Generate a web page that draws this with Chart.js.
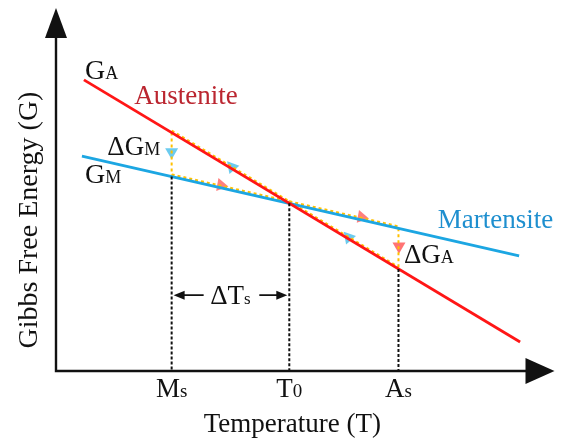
<!DOCTYPE html>
<html>
<head>
<meta charset="utf-8">
<script src="https://cdn.jsdelivr.net/npm/chart.js@4"></script>
<style>
  html, body { margin: 0; padding: 0; background: #fff; }
</style>
</head>
<body>
<canvas id="gibbs" width="562" height="438"></canvas>
<script>
// free energy lines (temperature and G in arbitrary units)
const austeniteT = [0.56, 9.31];
const austeniteG = [8.02, 0.80];
const martensiteT = [0.52, 9.29];
const martensiteG = [5.92, 3.17];

// characteristic temperatures Ms, T0, As
const tempNames = ['M', 'T', 'A'];
const tempSubs = ['s', '0', 's'];
const tempValues = [2.32, 4.68, 6.87];
const gAustenite = [6.57, 4.62, 2.81];   // G of austenite at Ms, T0, As
const gMartensite = [5.36, 4.62, 3.93];  // G of martensite at Ms, T0, As

// direction markers
const heatT = [3.31, 6.13];   // along martensite, heating
const heatG = [5.12, 4.24];
const coolT = [3.53, 5.87];   // along austenite, cooling
const coolG = [5.62, 3.68];
const dropT = [2.32, 6.88];   // driving force arrows at Ms and As
const dropG = [6.03, 3.44];

const deltaTsG = 2.09;
const pathLift = 0.05;  // dotted paths sit on the upper edge of the lines

const RED = 'rgb(255,22,22)';
const BLUE = 'rgb(28,166,226)';
const YELLOW = 'rgb(255,192,0)';
const INK = '#111';
const SERIF = '"Liberation Serif", "DejaVu Serif", serif';

const [Ms, T0, As] = tempValues;

function seg(xs, ys) {
  return xs.map((x, i) => ({ x: x, y: ys[i] }));
}

function lifted(xs, ys) {
  return seg(xs, ys.map(g => g + pathLift));
}

function line(data, color, width, dash) {
  return {
    data: data, showLine: true, borderColor: color, borderWidth: width,
    borderDash: dash || [], pointRadius: 0, fill: false, clip: false
  };
}

function markers(xs, ys, color, rotation) {
  return {
    data: seg(xs, ys), showLine: false, pointStyle: 'triangle',
    pointRadius: 7.5, pointRotation: rotation,
    backgroundColor: color, borderColor: color, borderWidth: 0, clip: false
  };
}

const dot = [3, 3];

const datasets = [
  // black guides down to the temperature axis
  line(seg([Ms, Ms], [gMartensite[0], 0]), INK, 2, [3, 2]),
  line(seg([T0, T0], [gMartensite[1], 0]), INK, 2, [3, 2]),
  line(seg([As, As], [gAustenite[2], 0]), INK, 2, [3, 2]),
  // free energy lines
  line(seg(austeniteT, austeniteG), RED, 2.8),
  line(seg(martensiteT, martensiteG), BLUE, 2.8),
  // transformation paths
  line(lifted([Ms, T0], [gAustenite[0], gAustenite[1]]), YELLOW, 2.4, dot),
  line(lifted([Ms, T0], [gMartensite[0], gMartensite[1]]), YELLOW, 2.4, dot),
  line(lifted([T0, As], [gMartensite[1], gMartensite[2]]), YELLOW, 2.4, dot),
  line(lifted([T0, As], [gAustenite[1], gAustenite[2]]), YELLOW, 2.4, dot),
  line(seg([Ms, Ms], [gAustenite[0], gMartensite[0]]), YELLOW, 2, dot),
  line(seg([As, As], [gMartensite[2], gAustenite[2]]), YELLOW, 2, dot),
  // arrow heads
  markers(heatT, heatG, 'rgba(255,95,95,0.8)', 100),
  markers(coolT, coolG, 'rgba(70,190,235,0.8)', 200),
  markers(dropT.slice(0, 1), dropG.slice(0, 1), 'rgba(70,190,235,0.8)', 180),
  markers(dropT.slice(1), dropG.slice(1), 'rgba(255,90,90,0.85)', 180)
];

// text with a small trailing subscript letter, both on the same baseline
function subText(ctx, main, sub, x, y, size, subSize, color, align) {
  ctx.fillStyle = color;
  ctx.textBaseline = 'alphabetic';
  ctx.font = size + 'px ' + SERIF;
  const w1 = ctx.measureText(main).width;
  ctx.font = subSize + 'px ' + SERIF;
  const w2 = ctx.measureText(sub).width;
  let left = x;
  if (align === 'center') left = x - (w1 + w2) / 2;
  ctx.textAlign = 'left';
  ctx.font = size + 'px ' + SERIF;
  ctx.fillText(main, left, y);
  ctx.font = subSize + 'px ' + SERIF;
  ctx.fillText(sub, left + w1, y);
}

function arrowHead(ctx, tipX, tipY, dx, dy, len, half) {
  // dx, dy: unit direction the arrow points to
  const bx = tipX - dx * len, by = tipY - dy * len;
  ctx.beginPath();
  ctx.moveTo(tipX, tipY);
  ctx.lineTo(bx - dy * half, by + dx * half);
  ctx.lineTo(bx + dy * half, by - dx * half);
  ctx.closePath();
  ctx.fill();
}

const diagramDecor = {
  id: 'diagramDecor',
  beforeDatasetsDraw(chart) {
    const ctx = chart.ctx;
    const x = chart.scales.x, y = chart.scales.y;
    const x0 = x.getPixelForValue(0), y0 = y.getPixelForValue(0);
    const xEnd = x.getPixelForValue(10), yEnd = y.getPixelForValue(10);
    ctx.save();
    ctx.strokeStyle = INK;
    ctx.fillStyle = INK;
    ctx.lineWidth = 2.4;
    ctx.beginPath();
    ctx.moveTo(x0, yEnd + 20);
    ctx.lineTo(x0, y0);
    ctx.lineTo(xEnd - 20, y0);
    ctx.stroke();
    arrowHead(ctx, x0, yEnd, 0, -1, 30, 11);
    arrowHead(ctx, xEnd, y0, 1, 0, 29, 13);
    ctx.restore();
  },
  afterDatasetsDraw(chart) {
    const ctx = chart.ctx;
    const x = chart.scales.x, y = chart.scales.y;
    const px = v => x.getPixelForValue(v);
    const py = v => y.getPixelForValue(v);
    ctx.save();

    // ΔTs span between Ms and T0
    const ay = py(deltaTsG);
    ctx.strokeStyle = INK;
    ctx.fillStyle = INK;
    ctx.lineWidth = 1.8;
    ctx.beginPath();
    ctx.moveTo(px(Ms) + 10, ay); ctx.lineTo(px(Ms) + 32, ay);
    ctx.moveTo(px(T0) - 30, ay); ctx.lineTo(px(T0) - 10, ay);
    ctx.stroke();
    arrowHead(ctx, px(Ms) + 2, ay, -1, 0, 11, 4.5);
    arrowHead(ctx, px(T0) - 2, ay, 1, 0, 11, 4.5);
    subText(ctx, 'ΔT', 's', px((Ms + T0) / 2), py(1.85), 27, 17, INK, 'center');

    // curve labels
    subText(ctx, 'G', 'A', px(0.58), py(8.04), 28, 18, INK);
    subText(ctx, 'G', 'M', px(0.58), py(5.18), 28, 18, INK);
    subText(ctx, 'ΔG', 'M', px(1.03), py(5.95), 27, 18, INK);
    subText(ctx, 'ΔG', 'A', px(6.98), py(2.98), 27, 18, INK);
    ctx.font = '27px ' + SERIF;
    ctx.textAlign = 'left';
    ctx.fillStyle = '#bb2630';
    ctx.fillText('Austenite', px(1.57), py(7.36));
    ctx.fillStyle = '#1e8fcf';
    ctx.fillText('Martensite', px(7.66), py(3.94));

    // temperature marks
    tempValues.forEach((t, i) => {
      subText(ctx, tempNames[i], tempSubs[i], px(t), py(-0.72), 27, 19, INK, 'center');
    });

    // axis titles
    ctx.fillStyle = INK;
    ctx.font = '27px ' + SERIF;
    ctx.textAlign = 'center';
    ctx.fillText('Temperature (T)', px(4.74), py(-1.68));
    ctx.font = '28px ' + SERIF;
    ctx.translate(px(-0.56) + 9, py(4.16));
    ctx.rotate(-Math.PI / 2);
    ctx.fillText('Gibbs Free Energy (G)', 0, 0);
    ctx.restore();
  }
};

new Chart(document.getElementById('gibbs'), {
  type: 'scatter',
  data: { datasets: datasets },
  options: {
    responsive: false,
    animation: false,
    devicePixelRatio: 1,
    layout: { padding: { left: 56, top: 8, right: 2, bottom: 67 } },
    scales: {
      x: { type: 'linear', min: 0, max: 10, display: false },
      y: { type: 'linear', min: 0, max: 10, display: false }
    },
    plugins: { legend: { display: false }, tooltip: { enabled: false } }
  },
  plugins: [diagramDecor]
});
</script>
</body>
</html>
